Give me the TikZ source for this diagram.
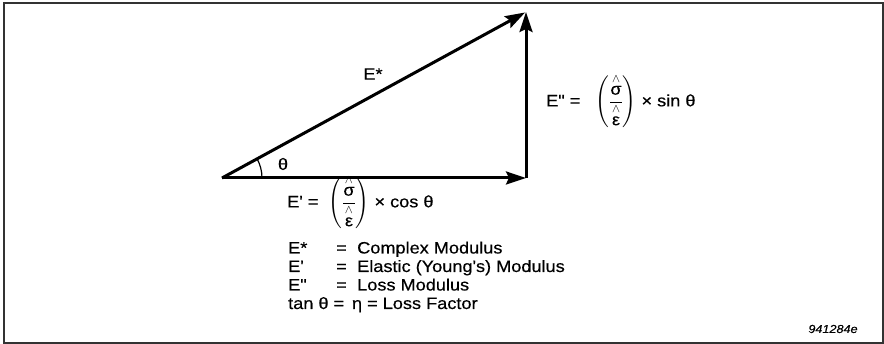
\documentclass[tikz,border=0pt]{standalone}
\usepackage{amsmath}
\usepackage{fontspec}
\setmainfont{Liberation Sans}[FakeStretch=1.1,FakeBold=0.4,Ligatures=TeXOff]
\usepackage{tikz}
\usetikzlibrary{arrows.meta}
\newcommand{\hatted}[1]{\overset{\scriptstyle\wedge}{\text{#1}}}

\begin{document}
\begin{tikzpicture}[x=1pt,y=1pt,
    vec/.style={line width=3pt, -{Stealth[length=20pt,width=13pt,inset=3pt]}},
    lbl/.style={font=\fontsize{16.5}{19}\selectfont, inner sep=0pt},
    tag/.style={font=\fontsize{11.5}{13}\selectfont\itshape, inner sep=0pt}]
            \useasboundingbox (0,0) rectangle (884,344);
            \draw[line width=1.5pt, black!80] (4,1) rectangle (883,341);
            % the triangle of moduli
            \coordinate (O) at (222,166);
            \coordinate (R) at (526,166);
            \coordinate (T) at (526,332);
            \draw[vec] (O) -- (R);
            \draw[vec] (R) -- (T);
            \draw[vec, shorten >=1pt] (O) -- (T);
            \draw[line width=1.2pt] ([shift={(0:40)}]O) arc (0:28.6:40);
            \node[lbl] (theta) at (283,180) {θ};
            \node[lbl] (estar) at (373,270) {E*};
            \node[lbl, anchor=west] (eloss) at (546,243)
                {E" =\ \ \ $\Bigg(\dfrac{\hatted{σ}}{\hatted{ε}}\Bigg)$ × sin θ};
            \node[lbl, anchor=west] (eprime) at (287,142)
                {E' =\ \ $\Bigg(\dfrac{\hatted{σ}}{\hatted{ε}}\Bigg)$ × cos θ};
            % legend
            \node[lbl, anchor=base west] (k1) at (288,90.5) {E*};
            \node[lbl, anchor=base west] (q1) at (336,90.5) {=};
            \node[lbl, anchor=base west] (v1) at (357,90.5) {Complex Modulus};
            \node[lbl, anchor=base west] (k2) at (288,72) {E'};
            \node[lbl, anchor=base west] (q2) at (336,72) {=};
            \node[lbl, anchor=base west] (v2) at (357,72) {Elastic (Young's) Modulus};
            \node[lbl, anchor=base west] (k3) at (288,53.5) {E"};
            \node[lbl, anchor=base west] (q3) at (336,53.5) {=};
            \node[lbl, anchor=base west] (v3) at (357,53.5) {Loss Modulus};
            \node[lbl, anchor=base west] (k4) at (288,35) {tan θ =\ \,η = Loss Factor};
            \node[tag] (fig) at (833,15) {941284e};
        \end{tikzpicture}
\end{document}
